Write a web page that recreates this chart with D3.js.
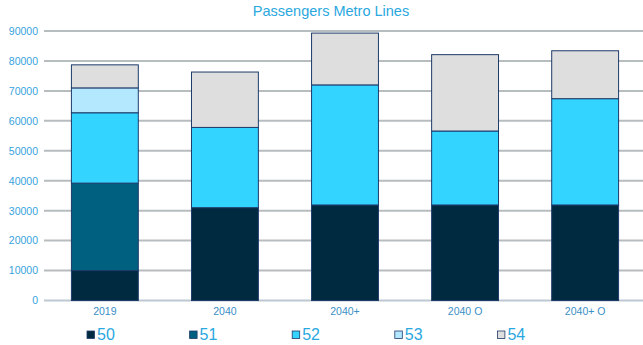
<!DOCTYPE html>
<html>
<head>
<meta charset="utf-8">
<script src="https://cdn.jsdelivr.net/npm/d3@7"></script>
<style>
  html, body { margin: 0; padding: 0; background: #fff; }
  svg { display: block; font-family: "Liberation Sans", Arial, sans-serif; }
</style>
</head>
<body>
<svg id="chart" width="643" height="345"></svg>
<script>
// Passenger counts per metro line, by scenario
const categories = ["2019", "2040", "2040+", "2040 O", "2040+ O"];
const lines = ["50", "51", "52", "53", "54"];
const line50 = [10000, 31000, 31900, 31900, 31900];
const line51 = [29200, 0, 0, 0, 0];
const line52 = [23500, 26800, 40100, 24700, 35500];
const line53 = [8300, 0, 0, 0, 0];
const line54 = [7700, 18500, 17300, 25500, 16000];
const yTicks = [0, 10000, 20000, 30000, 40000, 50000, 60000, 70000, 80000, 90000];
const colors = ["#002a40", "#006080", "#33d4ff", "#b3e8ff", "#dedede"];

const rows = categories.map((c, i) => ({
  cat: c, "50": line50[i], "51": line51[i], "52": line52[i], "53": line53[i], "54": line54[i]
}));

const svg = d3.select("#chart");
const margin = { left: 44, right: -2, top: 31, bottom: 44.5 };
const W = 643, H = 345;

const x = d3.scaleBand().domain(categories)
  .range([margin.left + 1, W - margin.right]).paddingInner(0.443).paddingOuter(0.22);
const y = d3.scaleLinear().domain([0, 90000]).range([H - margin.bottom, margin.top]);

// Title
svg.append("text").attr("x", 331).attr("y", 16).attr("text-anchor", "middle")
  .attr("fill", "#2aa8e0").attr("font-size", 14.5).text("Passengers Metro Lines");

// Gridlines
svg.append("g").selectAll("line").data(yTicks).join("line")
  .attr("x1", margin.left).attr("x2", W)
  .attr("y1", d => y(d)).attr("y2", d => y(d))
  .attr("stroke", d => d === 0 ? "#bcc8d2" : "#b7bcbf").attr("stroke-width", 2);

// Y axis labels
const yAxis = d3.axisLeft(y).tickValues(yTicks).tickSize(0).tickPadding(6).tickFormat(d3.format("d"));
const gy = svg.append("g").attr("transform", `translate(${margin.left},0)`).call(yAxis);
gy.select(".domain").remove();
gy.selectAll("text").attr("fill", "#36a3dd").attr("font-size", 10.5)
  .attr("font-family", "Liberation Sans, Arial, sans-serif");

// Stacked bars
const stack = d3.stack().keys(lines)(rows);
svg.append("g").selectAll("g").data(stack).join("g")
  .attr("fill", (d, i) => colors[i])
  .selectAll("rect").data(d => d.filter(p => p[1] - p[0] > 0)).join("rect")
  .attr("x", d => x(d.data.cat))
  .attr("width", x.bandwidth())
  .attr("y", d => y(d[1]))
  .attr("height", d => y(d[0]) - y(d[1]))
  .attr("stroke", "#1e3a6a").attr("stroke-width", 1);

// X axis labels
const xAxis = d3.axisBottom(x).tickSize(0).tickPadding(7);
const gx = svg.append("g").attr("transform", `translate(0,${H - margin.bottom})`).call(xAxis);
gx.select(".domain").remove();
gx.selectAll("text").attr("fill", "#3a8fc6").attr("font-size", 10.5)
  .attr("font-family", "Liberation Sans, Arial, sans-serif");

// Legend
const legend = svg.append("g").selectAll("g").data(lines).join("g")
  .attr("transform", (d, i) => `translate(${87 + i * 102.6},334)`);
legend.append("rect").attr("x", 0).attr("y", -3).attr("width", 7.5).attr("height", 7.5)
  .attr("fill", (d, i) => colors[i]).attr("stroke", "#1e3a6a").attr("stroke-width", 0.8);
legend.append("text").attr("x", 10).attr("y", 5.5).attr("fill", "#2aa8e0")
  .attr("font-size", 16).text(d => d);
</script>
</body>
</html>
